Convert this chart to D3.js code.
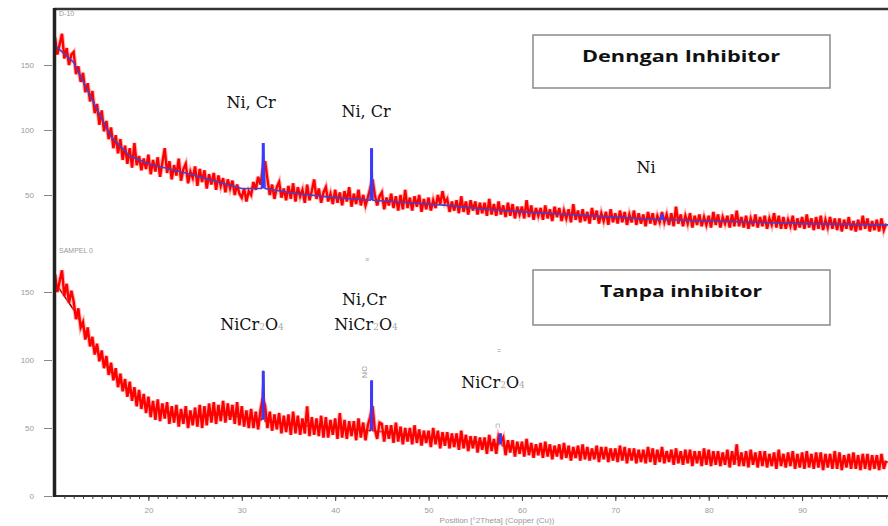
<!DOCTYPE html>
<html><head><meta charset="utf-8">
<script src="https://cdn.jsdelivr.net/npm/d3@7"></script>
<style>body{margin:0;background:#fff}svg{display:block}</style>
</head><body>
<svg id="c" width="888" height="526"></svg>
<script>
// ---- data (2θ sampled every 0.25° from 10°) ----
const startAngle = 10, stepAngle = 0.25;
const countsWith = [
171,158,166,174, 155,163,150,158, 160,143,149,137, 144,129,136,122, 130,113,120,104,
115,99,107,93, 102,86,96,82, 93,77,88,74, 86,71,90,73, 80,69,78,70,
81,66,77,68, 79,64,75,86, 67,76,62,73, 65,78,61,70, 74,59,68,63,
72,57,70,60, 69,55,66,58, 67,54,65,57, 63,52,62,55, 61,50,58,51,
48,55,45,53, 50,60,54,64, 58,70,76,62, 50,58,47,56, 60,48,55,46,
57,47,59,45, 56,49,54,44, 58,46,53,62, 47,55,44,52, 56,45,51,43,
54,44,52,42, 53,45,56,41, 51,43,54,42, 50,42,48,55, 62,50,42,49,
52,39,48,42, 51,40,49,38, 50,39,54,40, 48,38,49,41, 50,37,47,39,
48,38,46,40, 50,43,53,44, 47,37,45,38, 46,36,49,37, 45,35,46,38,
45,35,44,36, 44,34,47,35, 43,34,45,35, 42,33,44,34, 43,32,41,35,
41,32,46,33, 42,31,40,34, 40,31,42,32, 39,30,41,33, 40,30,38,32,
39,29,43,31, 38,29,39,30, 37,28,40,31, 38,28,36,30, 37,27,39,29,
36,28,38,29, 37,27,35,29, 38,27,36,28, 35,26,37,28, 36,27,34,29,
37,29,35,27, 36,26,41,28, 35,26,34,28, 36,25,34,27, 35,26,33,27,
34,25,37,27, 35,25,33,28, 34,25,35,26, 38,26,33,25, 34,24,32,26,
35,25,33,26, 34,24,32,27, 36,25,34,24, 33,24,31,26, 34,23,32,25,
33,24,35,25, 32,23,33,24, 34,23,31,25, 33,24,32,23, 32,22,31,24,
33,23,30,22, 31,23,34,24, 32,22,30,23, 31,22,32,23, 28];
const countsWithout = [
163,150,158,166, 147,156,142,151, 143,130,138,124, 128,115,124,110, 117,104,112,99,
107,94,103,89, 98,85,94,80, 90,77,86,73, 84,70,80,66, 78,64,75,61,
73,58,70,56, 71,55,68,57, 69,53,66,54, 67,51,64,53, 66,50,63,52,
65,51,67,50, 66,52,68,54, 69,53,67,55, 70,54,68,56, 67,53,69,52,
66,51,63,50, 64,50,62,49, 63,72,66,50, 62,48,60,49, 61,46,59,47,
60,45,62,46, 59,45,57,46, 66,44,58,45, 57,44,59,43, 58,43,56,45,
57,42,61,43, 56,42,55,44, 55,41,57,43, 54,41,52,58, 66,49,42,54,
53,40,52,42, 52,39,54,40, 51,38,50,40, 50,38,52,39, 49,37,48,39,
48,36,50,38, 48,35,47,37, 47,35,46,36, 46,34,48,35, 45,33,44,35,
44,32,43,34, 43,31,45,33, 42,31,44,40, 43,30,41,32, 41,29,40,31,
40,29,42,30, 39,28,38,30, 39,28,40,29, 38,27,37,29, 38,27,39,28,
37,26,36,28, 37,26,38,27, 36,26,35,27, 37,25,36,27, 36,25,35,26,
35,25,37,26, 36,24,35,26, 35,24,34,25, 34,24,36,25, 35,23,34,25,
36,24,33,25, 34,23,35,24, 33,23,34,24, 34,22,33,24, 33,22,35,23,
34,22,33,23, 33,22,32,23, 34,21,33,23, 38,22,32,22, 33,21,34,23,
32,21,33,22, 33,21,31,22, 32,20,34,22, 31,21,32,22, 33,20,31,21,
32,20,33,21, 31,20,32,21, 32,19,31,21, 31,20,33,20, 32,19,30,21,
31,20,32,20, 30,19,31,20, 31,19,30,20, 30,19,31,20, 26];
// background / profile fit [2θ, counts]
const fitWith = [[10,165],[12,152],[14,123],[16,95],[18,80],[20,74],[24,67],[28,59],[30,55],[32.1,55],[32.3,90],[32.5,55],[36,51],[40,48],[43.75,46],[43.9,86],[44.05,46],[48,44],[52,42],[56,39],[60,37],[65,35],[70,33],[74.8,31],[75,35],[75.2,31],[80,30],[90,28],[99.2,27]];
const fitWithout = [[10,157],[12,137],[14,111],[16,91],[18,76],[20,66],[24,58],[28,60],[30,58],[32.1,56],[32.3,92],[32.5,55],[36,52],[40,50],[43.75,48],[43.9,85],[44.05,48],[48,45],[52,42],[57.5,38],[57.7,46],[57.9,37],[60,35],[65,32],[70,31],[80,28],[90,26],[99.2,25]];
const peaksWith = [[32.3,55,90],[43.9,46,86],[75,31,35]];
const peaksWithout = [[32.3,56,92],[43.9,48,85],[57.7,38,46]];
const xTicks = [20,30,40,50,60,70,80,90];
const yTicks = [50,100,150];
const legendLabels = ["Denngan Inhibitor","Tanpa inhibitor"];
const panelLabels = ["D-10","SAMPEL 0"];
const xTitle = "Position [°2Theta] (Copper (Cu))";

// ---- scales ----
const svg = d3.select("#c");
const x = d3.scaleLinear().domain([10,99.2]).range([55,888]);
const yUp = d3.scaleLinear().domain([0,150]).range([260,65]);
const yLo = d3.scaleLinear().domain([0,150]).range([496,292]);

svg.append("defs").append("clipPath").attr("id","clip")
  .append("rect").attr("x",56).attr("y",9).attr("width",832).attr("height",486);
const plot = svg.append("g").attr("clip-path","url(#clip)");

function series(arr){ return arr.map((v,i)=>[startAngle+i*stepAngle,v]); }
function drawPanel(data, fit, peaks, y, fitColor, fitOnTop){
  const line = d3.line().x(d=>x(d[0])).y(d=>y(d[1]));
  const s = series(data);
  const fitPath = () => plot.append("path").datum(fit).attr("d",line)
     .attr("fill","none").attr("stroke",fitColor).attr("stroke-width",1.6);
  if(!fitOnTop) fitPath();
  plot.append("path").datum(s).attr("d",line).attr("fill","none")
     .attr("stroke","#ff7a7a").attr("stroke-width",4.5).attr("stroke-linejoin","miter").attr("opacity",0.55);
  plot.append("path").datum(s).attr("d",line).attr("fill","none")
     .attr("stroke","#ff0000").attr("stroke-width",2.4);
  if(fitOnTop) fitPath();
  plot.selectAll(null).data(peaks).enter().append("line")
     .attr("x1",d=>x(d[0])).attr("x2",d=>x(d[0]))
     .attr("y1",d=>y(d[1])).attr("y2",d=>y(d[2]))
     .attr("stroke","#3a3aff").attr("stroke-width",3);
}
drawPanel(countsWith, fitWith, peaksWith, yUp, "#4b3fc8", true);
drawPanel(countsWithout, fitWithout, peaksWithout, yLo, "#b00000", false);

// ---- axes ----
const tickFont = "Liberation Sans, Arial, sans-serif";
function yAxis(y, ticks){
  const g = svg.append("g").attr("transform","translate(52,0)")
    .call(d3.axisLeft(y).tickValues(ticks).tickSize(8).tickPadding(10));
  g.select(".domain").remove();
  g.selectAll("line").attr("stroke","#888");
  g.selectAll("text").attr("font-family",tickFont).attr("font-size",8).attr("fill","#999");
}
yAxis(yUp, yTicks);
yAxis(yLo, [0].concat(yTicks));

const xg = svg.append("g").attr("transform","translate(0,496)")
  .call(d3.axisBottom(x).tickValues(xTicks).tickSize(5).tickPadding(6));
xg.select(".domain").remove();
xg.selectAll("line").attr("stroke","#444");
xg.selectAll("text").attr("font-family",tickFont).attr("font-size",8).attr("fill","#999");
const xm = svg.append("g").attr("transform","translate(0,496)")
  .call(d3.axisBottom(x).tickValues(d3.range(11,100,1)).tickSize(3).tickFormat(""));
xm.select(".domain").remove();
xm.selectAll("line").attr("stroke","#444");

// frame
svg.append("line").attr("x1",55).attr("x2",888).attr("y1",496).attr("y2",496).attr("stroke","#333").attr("stroke-width",2);
svg.append("line").attr("x1",54).attr("x2",888).attr("y1",9).attr("y2",9).attr("stroke","#333").attr("stroke-width",2.5);
svg.append("line").attr("x1",54.5).attr("x2",54.5).attr("y1",8).attr("y2",497).attr("stroke","#222").attr("stroke-width",3.5);

svg.append("text").attr("x",497).attr("y",523).attr("text-anchor","middle")
  .attr("font-family",tickFont).attr("font-size",8).attr("fill","#999").text(xTitle);
svg.append("text").attr("x",59).attr("y",16).attr("font-family",tickFont).attr("font-size",7).attr("fill","#999").text(panelLabels[0]);
svg.append("text").attr("x",59).attr("y",253).attr("font-family",tickFont).attr("font-size",7).attr("fill","#999").text(panelLabels[1]);

// ---- legend boxes ----
const boxes = [{y:35,h:53,ty:62,w:198},{y:270,h:55,ty:297,w:162}];
boxes.forEach((b,i)=>{
  svg.append("rect").attr("x",533).attr("y",b.y).attr("width",297).attr("height",b.h)
    .attr("fill","#fff").attr("stroke","#8a8a8a").attr("stroke-width",1.5);
  svg.append("text").attr("x",681).attr("y",b.ty).attr("text-anchor","middle")
    .attr("font-family","Open Sans, sans-serif").attr("font-weight","bold").attr("font-size",16)
    .attr("textLength",b.w).attr("lengthAdjust","spacingAndGlyphs")
    .attr("fill","#111").text(legendLabels[i]);
});

// ---- phase annotations ----
const serif = "DejaVu Serif, serif";
function label(cx, by, parts){
  const t = svg.append("text").attr("x",cx).attr("y",by).attr("text-anchor","middle")
    .attr("font-family",serif).attr("font-size",16).attr("fill","#111");
  parts.forEach(p=>{
    const ts = t.append("tspan").text(p[0]);
    if(p[1]) ts.attr("font-size",9).attr("fill","#aaa");
  });
}
label(251,108,[["Ni, Cr"]]);
label(366,117,[["Ni, Cr"]]);
label(646,173,[["Ni"]]);
label(364,305,[["Ni,Cr"]]);
label(252,330,[["NiCr"],["2",1],["O"],["4",1]]);
label(366,330,[["NiCr"],["2",1],["O"],["4",1]]);
label(493,388,[["NiCr"],["2",1],["O"],["4",1]]);

// tiny peak-index marks
const tiny = (xx,yy,t,rot)=>svg.append("text").attr("x",xx).attr("y",yy).attr("text-anchor","middle")
  .attr("font-family",tickFont).attr("font-size",7).attr("fill","#999")
  .attr("transform",rot?`rotate(-90,${xx},${yy})`:null).text(t);
tiny(367,262,"≡");
tiny(499,353,"=");
tiny(367,372,"NiO",true);
tiny(497,428,"⊓");
</script>
</body></html>
